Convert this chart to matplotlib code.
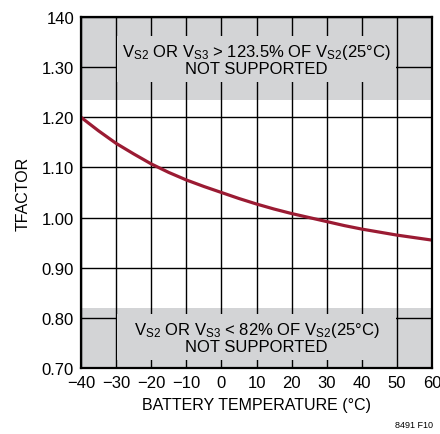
import numpy as np
import matplotlib
matplotlib.use("Agg")
import matplotlib.pyplot as plt
from matplotlib.patches import Rectangle

temp = [-40, -35, -30, -25, -20, -15, -10, -5, 0, 5, 10, 15, 20, 25, 30,
        35, 40, 45, 50, 55, 60]
tfactor = [1.200, 1.173, 1.148, 1.127, 1.107, 1.090, 1.075, 1.062, 1.050,
           1.038, 1.027, 1.017, 1.008, 1.000, 0.992, 0.984, 0.977, 0.971,
           0.965, 0.960, 0.955]
xticks = [-40, -30, -20, -10, 0, 10, 20, 30, 40, 50, 60]
xlabels = ["\u221240", "\u221230", "\u221220", "\u221210", "0", "10", "20",
           "30", "40", "50", "60"]
yticks = [0.70, 0.80, 0.90, 1.00, 1.10, 1.20, 1.30, 1.40]
ylabels = ["0.70", "0.80", "0.90", "1.00", "1.10", "1.20", "1.30", "140"]
hi_limit = 1.235
lo_limit = 0.82

FONT = ["Liberation Sans", "DejaVu Sans"]
plt.rcParams["font.family"] = FONT
plt.rcParams["mathtext.fontset"] = "custom"
plt.rcParams["mathtext.rm"] = "Liberation Sans"
plt.rcParams["mathtext.it"] = "Liberation Sans"
plt.rcParams["mathtext.default"] = "rm"

GRAY = "#d3d4d6"
RED = "#9b1b33"

fig = plt.figure(figsize=(4.4, 4.35), dpi=100)
ax = fig.add_axes([0.184, 0.1517, 0.798, 0.807])
ax.set_xlim(-40, 60)
ax.set_ylim(0.70, 1.40)

ax.axhspan(hi_limit, 1.40, color=GRAY, lw=0, zorder=0.5)
ax.axhspan(0.70, lo_limit, color=GRAY, lw=0, zorder=0.5)
ax.grid(True, color="black", lw=1.0, zorder=1.5)

# text boxes hide the grid inside the shaded zones
ax.add_patch(Rectangle((-29.6, 1.270), 79.2, 0.093, color=GRAY, lw=0,
                       zorder=2))
ax.add_patch(Rectangle((-29.6, 0.716), 79.2, 0.092, color=GRAY, lw=0,
                       zorder=2))
ax.text(10, 1.316, "V$_{S2}$ OR V$_{S3}$ > 123.5% OF V$_{S2}$(25\u00b0C)\n"
        "NOT SUPPORTED", ha="center", va="center", fontsize=12,
        linespacing=0.95, zorder=3)
ax.text(10, 0.762, "V$_{S2}$ OR V$_{S3}$ < 82% OF V$_{S2}$(25\u00b0C)\n"
        "NOT SUPPORTED", ha="center", va="center", fontsize=12,
        linespacing=0.95, zorder=3)

ax.plot(temp, tfactor, color=RED, lw=2.3, zorder=4, solid_capstyle="butt")

ax.set_xticks(xticks)
ax.set_xticklabels(xlabels)
ax.set_yticks(yticks)
ax.set_yticklabels(ylabels)
ax.tick_params(length=0, labelsize=12, pad=5)
for s in ax.spines.values():
    s.set_linewidth(1.6)
    s.set_zorder(5)

ax.set_xlabel("BATTERY TEMPERATURE (\u00b0C)", fontsize=11.5, labelpad=5)
ax.set_ylabel("TFACTOR", fontsize=11.5, labelpad=8)
fig.text(0.985, 0.012, "8491 F10", ha="right", va="bottom", fontsize=6.5)

fig.savefig("out.png", dpi=100)
